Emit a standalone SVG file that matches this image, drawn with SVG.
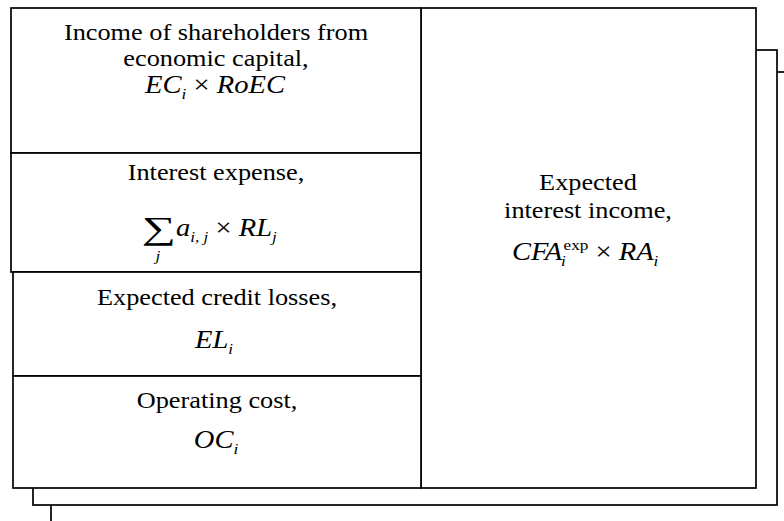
<svg xmlns="http://www.w3.org/2000/svg" width="784" height="521" viewBox="0 0 784 521">
  <style>
    .box { fill: #fff; stroke: #000; stroke-width: 1.7; }
    text { font-family: "Liberation Serif", "Times New Roman", serif; font-size: 23px; fill: #000; }
    .mid { text-anchor: middle; }
    .f { font-size: 25px; }
    .it { font-style: italic; }
    .sub { font-style: italic; font-size: 15px; }
    .sup { font-size: 15px; }
  </style>

  <!-- stacked sheets behind the main table -->
  <g id="sheet-back">
    <rect class="box" x="51" y="72" width="760" height="470"/>
  </g>
  <g id="sheet-middle">
    <rect class="box" x="33" y="50" width="744" height="455"/>
  </g>

  <!-- right column: expected interest income -->
  <g id="interest-income">
    <rect class="box" x="421" y="8" width="335" height="480"/>
    <text class="mid" transform="translate(588,190) scale(1.143,1)">Expected</text>
    <text class="mid" transform="translate(588,218) scale(1.143,1)">interest income,</text>
    <text class="f" transform="translate(512,260) scale(1.143,1)"><tspan class="it">CFA</tspan><tspan class="sub" dx="-1" dy="6">i</tspan><tspan class="sup" dx="-2" dy="-16">exp</tspan><tspan dy="10"> × </tspan><tspan class="it">RA</tspan><tspan class="sub" dy="6">i</tspan></text>
  </g>

  <!-- left column, top to bottom -->
  <g id="shareholder-income">
    <rect class="box" x="11" y="8" width="410" height="145"/>
    <text class="mid" transform="translate(216,40) scale(1.143,1)">Income of shareholders from</text>
    <text class="mid" transform="translate(216,66) scale(1.143,1)">economic capital,</text>
    <text class="mid f" transform="translate(215,93) scale(1.143,1)"><tspan class="it">EC</tspan><tspan class="sub" dy="6">i</tspan><tspan dy="-6"> × </tspan><tspan class="it">RoEC</tspan></text>
  </g>

  <g id="interest-expense">
    <rect class="box" x="11" y="153" width="410" height="119"/>
    <text class="mid" transform="translate(216,180) scale(1.143,1)">Interest expense,</text>
    <text transform="translate(142,239) scale(1.5,1)" style="font-size:32px">∑</text>
    <text class="sub mid" transform="translate(158,261) scale(1.143,1)">j</text>
    <text class="f" transform="translate(176,236) scale(1.143,1)"><tspan class="it">a</tspan><tspan class="sub" dy="6">i, j</tspan><tspan dy="-6"> × </tspan><tspan class="it">RL</tspan><tspan class="sub" dy="6">j</tspan></text>
  </g>

  <g id="credit-losses">
    <rect class="box" x="13" y="272" width="408" height="104"/>
    <text class="mid" transform="translate(217,305) scale(1.143,1)">Expected credit losses,</text>
    <text class="mid f" transform="translate(214,348) scale(1.143,1)"><tspan class="it">EL</tspan><tspan class="sub" dy="6">i</tspan></text>
  </g>

  <g id="operating-cost">
    <rect class="box" x="13" y="376" width="408" height="112"/>
    <text class="mid" transform="translate(217,408) scale(1.143,1)">Operating cost,</text>
    <text class="mid f" transform="translate(216,448) scale(1.143,1)"><tspan class="it">OC</tspan><tspan class="sub" dy="6">i</tspan></text>
  </g>
</svg>
